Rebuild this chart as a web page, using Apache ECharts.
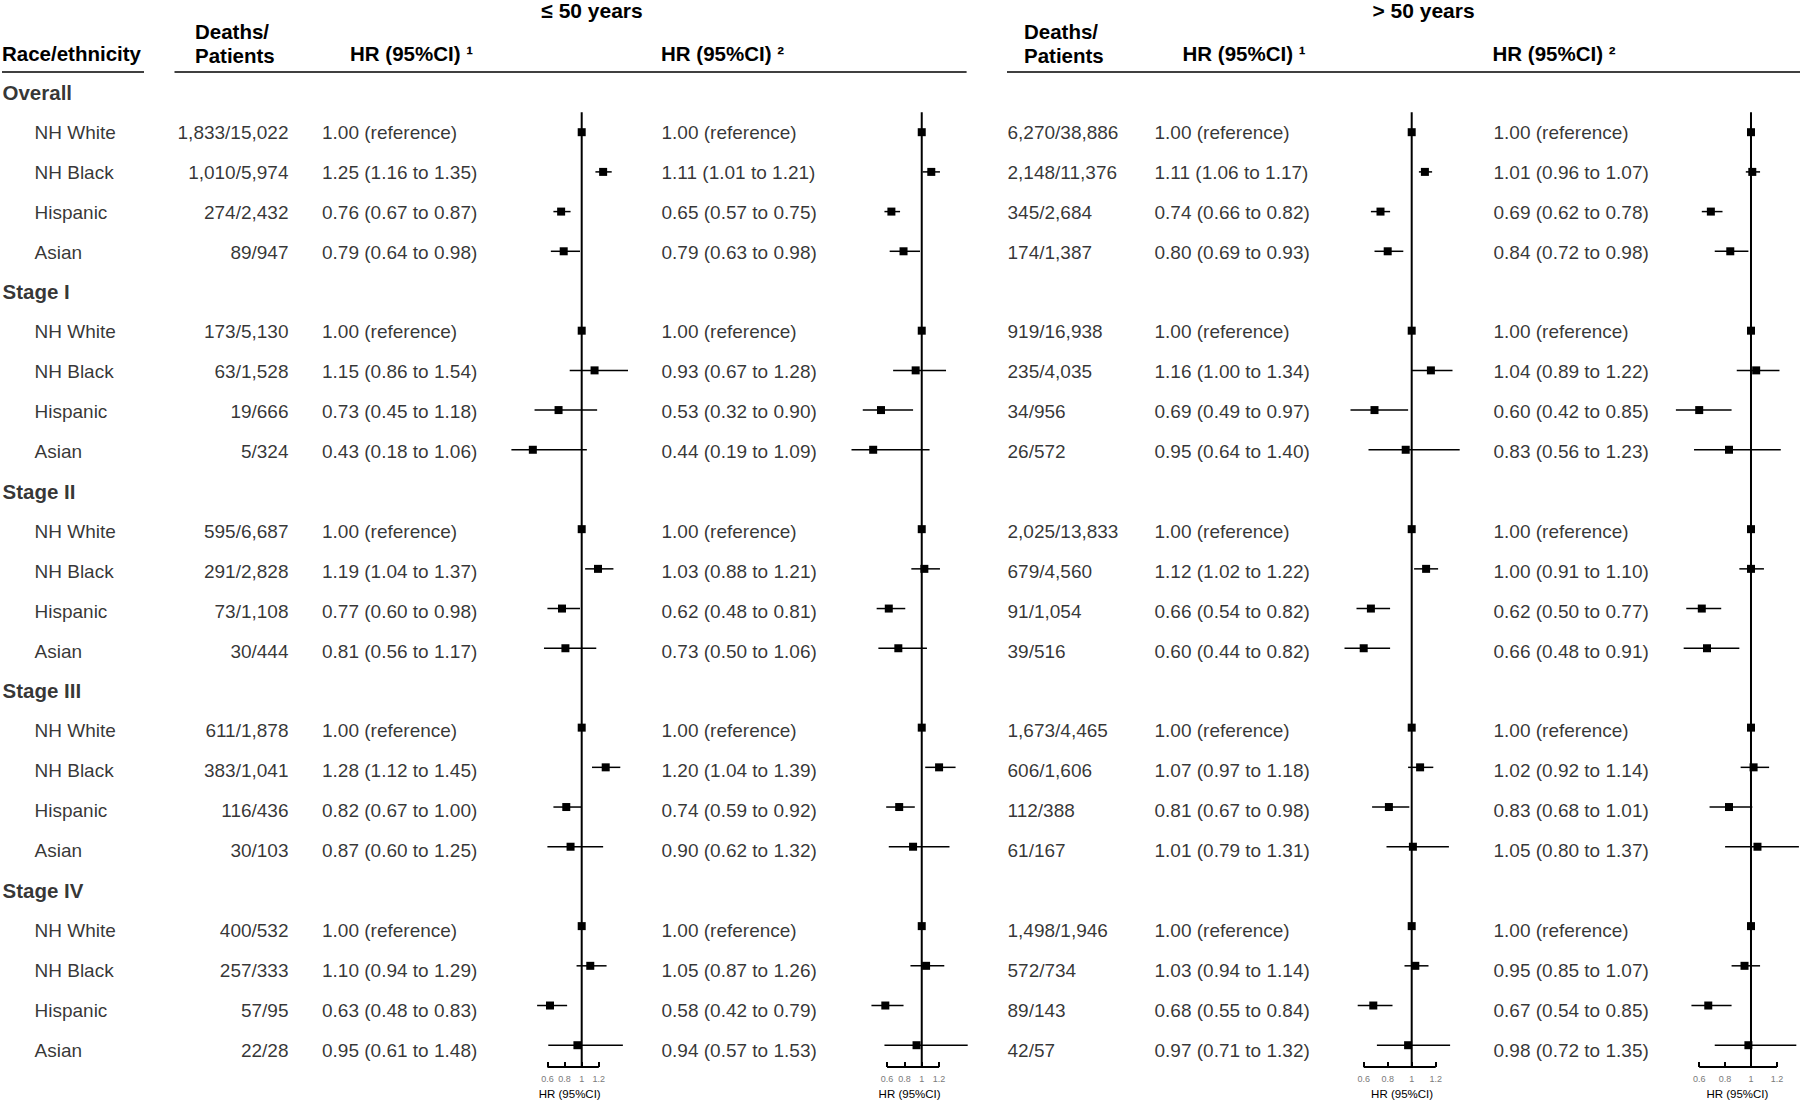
<!DOCTYPE html>
<html><head><meta charset="utf-8">
<script src="https://cdn.jsdelivr.net/npm/echarts@6/dist/echarts.min.js"></script>
<style>html,body{margin:0;padding:0;background:#fff}#c{width:1800px;height:1105px}</style>
</head><body><div id="c"></div>
<script>
// ---------------- data ----------------
const sections = ['Overall', 'Stage I', 'Stage II', 'Stage III', 'Stage IV'];
const groups = ['NH White', 'NH Black', 'Hispanic', 'Asian'];
const ageTitles = ['\u2264 50 years', '> 50 years'];
const tickValues = [0.6, 0.8, 1, 1.2];
const refValue = 1;

// <= 50 years
const youngDP = ['1,833/15,022','1,010/5,974','274/2,432','89/947','173/5,130','63/1,528','19/666','5/324','595/6,687','291/2,828','73/1,108','30/444','611/1,878','383/1,041','116/436','30/103','400/532','257/333','57/95','22/28'];
const youngHR1 = [1,1.25,0.76,0.79, 1,1.15,0.73,0.43, 1,1.19,0.77,0.81, 1,1.28,0.82,0.87, 1,1.10,0.63,0.95];
const youngLo1 = [null,1.16,0.67,0.64, null,0.86,0.45,0.18, null,1.04,0.60,0.56, null,1.12,0.67,0.60, null,0.94,0.48,0.61];
const youngHi1 = [null,1.35,0.87,0.98, null,1.54,1.18,1.06, null,1.37,0.98,1.17, null,1.45,1.00,1.25, null,1.29,0.83,1.48];
const youngHR2 = [1,1.11,0.65,0.79, 1,0.93,0.53,0.44, 1,1.03,0.62,0.73, 1,1.20,0.74,0.90, 1,1.05,0.58,0.94];
const youngLo2 = [null,1.01,0.57,0.63, null,0.67,0.32,0.19, null,0.88,0.48,0.50, null,1.04,0.59,0.62, null,0.87,0.42,0.57];
const youngHi2 = [null,1.21,0.75,0.98, null,1.28,0.90,1.09, null,1.21,0.81,1.06, null,1.39,0.92,1.32, null,1.26,0.79,1.53];

// > 50 years
const oldDP = ['6,270/38,886','2,148/11,376','345/2,684','174/1,387','919/16,938','235/4,035','34/956','26/572','2,025/13,833','679/4,560','91/1,054','39/516','1,673/4,465','606/1,606','112/388','61/167','1,498/1,946','572/734','89/143','42/57'];
const oldHR1 = [1,1.11,0.74,0.80, 1,1.16,0.69,0.95, 1,1.12,0.66,0.60, 1,1.07,0.81,1.01, 1,1.03,0.68,0.97];
const oldLo1 = [null,1.06,0.66,0.69, null,1.00,0.49,0.64, null,1.02,0.54,0.44, null,0.97,0.67,0.79, null,0.94,0.55,0.71];
const oldHi1 = [null,1.17,0.82,0.93, null,1.34,0.97,1.40, null,1.22,0.82,0.82, null,1.18,0.98,1.31, null,1.14,0.84,1.32];
const oldHR2 = [1,1.01,0.69,0.84, 1,1.04,0.60,0.83, 1,1.00,0.62,0.66, 1,1.02,0.83,1.05, 1,0.95,0.67,0.98];
const oldLo2 = [null,0.96,0.62,0.72, null,0.89,0.42,0.56, null,0.91,0.50,0.48, null,0.92,0.68,0.80, null,0.85,0.54,0.72];
const oldHi2 = [null,1.07,0.78,0.98, null,1.22,0.85,1.23, null,1.10,0.77,0.91, null,1.14,1.01,1.37, null,1.07,0.85,1.35];

// ---------------- layout ----------------
const W = 1800, H = 1105;
const ROW0 = 92.4, STEP = 39.9;       // pixel centre of row 0 and row pitch
const AXIS_Y = 1072;                  // pixel of the forest axis baseline
const FONT = '"Liberation Sans", Arial, sans-serif';
const rowMaxF = (AXIS_Y - ROW0) / STEP;
const panels = [
  {left: 511.4, width: 116.6, hr: youngHR1, lo: youngLo1, hi: youngHi1},
  {left: 851.5, width: 116.2, hr: youngHR2, lo: youngLo2, hi: youngHi2},
  {left: 1344.5, width: 115.2, hr: oldHR1, lo: oldLo1, hi: oldHi1},
  {left: 1675.9, width: 123.0, hr: oldHR2, lo: oldLo2, hi: oldHi2}
];
const textCols = {
  section: 2, group: 34,
  youngDP: 289, youngHR1: 321.5, youngHR2: 661,
  oldDP: 1007, oldHR1: 1154, oldHR2: 1493
};

function rowOf(i) { return Math.floor(i / 4) * 5 + 1 + (i % 4); }
function hrText(hr, lo, hi) {
  return lo == null ? hr.toFixed(2) + ' (reference)' : hr.toFixed(2) + ' (' + lo.toFixed(2) + ' to ' + hi.toFixed(2) + ')';
}

const grids = [], xAxes = [], yAxes = [], series = [];
panels.forEach((p, k) => {
  const los = p.lo.filter(v => v != null), his = p.hi.filter(v => v != null);
  grids.push({left: p.left, width: p.width, top: ROW0 + 0.5 * STEP, height: AXIS_Y - (ROW0 + 0.5 * STEP)});
  xAxes.push({
    gridIndex: k, type: 'value', min: Math.min(...los), max: Math.max(...his),
    axisLine: {show: false}, splitLine: {show: false},
    axisTick: {show: true, inside: true, length: 5, customValues: tickValues, lineStyle: {color: '#000', width: 2}},
    axisLabel: {show: true, customValues: tickValues, color: '#7a7a7a', fontSize: 9, margin: 7, fontFamily: FONT},
    name: 'HR (95%CI)', nameLocation: 'middle', nameGap: 20,
    nameTextStyle: {fontSize: 11.5, color: '#000', fontFamily: FONT}
  });
  yAxes.push({gridIndex: k, type: 'value', inverse: true, min: 0.5, max: rowMaxF, show: false});
  // reference line at HR = 1
  series.push({
    type: 'line', xAxisIndex: k, yAxisIndex: k, clip: false, silent: true, symbol: 'none',
    data: [[refValue, 0.5], [refValue, rowMaxF]], lineStyle: {color: '#000', width: 2}
  });
  // axis baseline spanning tick range
  series.push({
    type: 'line', xAxisIndex: k, yAxisIndex: k, clip: false, silent: true, symbol: 'none',
    data: [[tickValues[0], rowMaxF], [tickValues[tickValues.length - 1], rowMaxF]], lineStyle: {color: '#000', width: 2}
  });
  // estimates with CIs
  series.push({
    type: 'custom', xAxisIndex: k, yAxisIndex: k, silent: true,
    encode: {x: 0, y: 1},
    data: p.hr.map((v, i) => [v, rowOf(i), p.lo[i] == null ? v : p.lo[i], p.hi[i] == null ? v : p.hi[i]]),
    renderItem: function (params, api) {
      const hr = api.value(0), r = api.value(1), lo = api.value(2), hi = api.value(3);
      const c = api.coord([hr, r]);
      const ch = [];
      if (lo !== hi) {
        const a = api.coord([lo, r]), b = api.coord([hi, r]);
        ch.push({type: 'line', shape: {x1: a[0], y1: a[1], x2: b[0], y2: b[1]}, style: {stroke: '#000', lineWidth: 1.5}});
      }
      ch.push({type: 'rect', shape: {x: c[0] - 4, y: c[1] - 4, width: 8, height: 8}, style: {fill: '#000'}});
      return {type: 'group', children: ch};
    }
  });
});

// table grid (full canvas) sharing the same row scale
const T = panels.length;
grids.push({left: 0, top: 0, width: W, height: H});
xAxes.push({gridIndex: T, type: 'value', min: 0, max: W, show: false});
yAxes.push({gridIndex: T, type: 'value', inverse: true, min: -ROW0 / STEP, max: (H - ROW0) / STEP, show: false});

function textSeries(items, align, bold, size) {
  return {
    type: 'scatter', xAxisIndex: T, yAxisIndex: T, clip: false, silent: true,
    symbol: 'circle', symbolSize: 1, itemStyle: {color: 'rgba(0,0,0,0)'},
    data: items.map(d => ({name: d[2], value: [d[0], d[1]]})),
    label: {
      show: true, position: align === 'left' ? 'right' : 'left', distance: 0,
      formatter: '{b}', color: '#000', fontSize: size, fontWeight: bold ? 'bold' : 'normal', fontFamily: FONT
    }
  };
}
series.push(textSeries(sections.map((s, i) => [textCols.section, i * 5, s]), 'left', true, 20.5));
const groupItems = [];
for (let i = 0; i < 20; i++) groupItems.push([textCols.group, rowOf(i), groups[i % 4]]);
series.push(textSeries(groupItems, 'left', false, 19));
series.push(textSeries(youngDP.map((t, i) => [textCols.youngDP, rowOf(i), t]), 'right', false, 19));
series.push(textSeries(youngHR1.map((v, i) => [textCols.youngHR1, rowOf(i), hrText(v, youngLo1[i], youngHi1[i])]), 'left', false, 19));
series.push(textSeries(youngHR2.map((v, i) => [textCols.youngHR2, rowOf(i), hrText(v, youngLo2[i], youngHi2[i])]), 'left', false, 19));
series.push(textSeries(oldDP.map((t, i) => [textCols.oldDP, rowOf(i), t]), 'left', false, 19));
series.push(textSeries(oldHR1.map((v, i) => [textCols.oldHR1, rowOf(i), hrText(v, oldLo1[i], oldHi1[i])]), 'left', false, 19));
series.push(textSeries(oldHR2.map((v, i) => [textCols.oldHR2, rowOf(i), hrText(v, oldLo2[i], oldHi2[i])]), 'left', false, 19));

// header texts and rules
const HB = 'bold 20.5px ' + FONT;
function htext(t, x, y, align, font) {
  return {type: 'text', silent: true, style: {text: t, x: x, y: y, font: font || HB, fill: '#000', textAlign: align || 'left', textVerticalAlign: 'middle'}};
}
function hline(x1, x2, y) {
  return {type: 'line', silent: true, shape: {x1: x1, y1: y, x2: x2, y2: y}, style: {stroke: '#000', lineWidth: 1.6}};
}
const graphic = [
  htext(ageTitles[0], 592, 10, 'center', 'bold 21px ' + FONT),
  htext(ageTitles[1], 1423.5, 10, 'center', 'bold 21px ' + FONT),
  htext('Race/ethnicity', 2, 53),
  htext('Deaths/', 195, 31), htext('Patients', 195, 55),
  htext('HR (95%CI) \u00b9', 350, 53), htext('HR (95%CI) \u00b2', 661, 53),
  htext('Deaths/', 1024, 31), htext('Patients', 1024, 55),
  htext('HR (95%CI) \u00b9', 1182.5, 53), htext('HR (95%CI) \u00b2', 1492.5, 53),
  hline(2, 144, 72), hline(174.5, 966.6, 72), hline(1007, 1800, 72)
];

const chart = echarts.init(document.getElementById('c'), null, {renderer: 'svg', width: W, height: H});
chart.setOption({
  animation: false, backgroundColor: '#fff',
  grid: grids, xAxis: xAxes, yAxis: yAxes, series: series, graphic: graphic
});
</script></body></html>
